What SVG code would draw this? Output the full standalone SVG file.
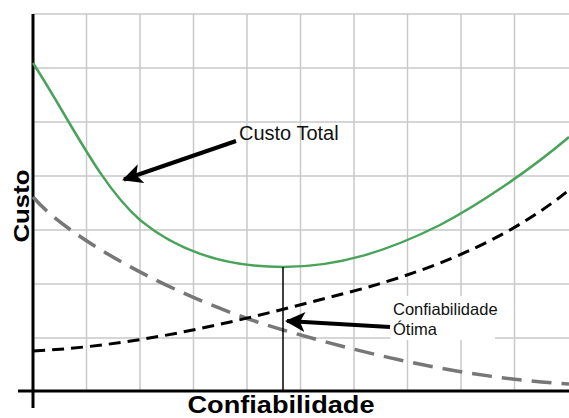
<svg xmlns="http://www.w3.org/2000/svg" width="569" height="418" viewBox="0 0 569 418">
<style>
.grid{stroke:#c9c9c9;stroke-width:1.5;fill:none}
.axis{stroke:#000;stroke-width:3;fill:none}
.lbl{font-family:"Liberation Sans",Arial,sans-serif;fill:#111}
.ax{font-family:"Liberation Sans",Arial,sans-serif;font-weight:bold;fill:#000}
.arrow{stroke:#000;stroke-width:4;fill:none}
</style>
<defs>
<marker id="ah" viewBox="0 0 10 10" refX="9" refY="5" markerWidth="5" markerHeight="5" orient="auto" markerUnits="strokeWidth">
<path d="M0,0 L10,5 L0,10 L2.5,5 Z" fill="#000"/>
</marker>
</defs>
<rect width="569" height="418" fill="#fff"/>
<g id="grid">
<path class="grid" d="M86.5,14V391M140,14V391M193.5,14V391M247,14V391M300.5,14V391M354,14V391M407.5,14V391M461,14V391M514.5,14V391"/>
<path class="grid" d="M33,14H569M33,68H569M33,122H569M33,176H569M33,230H569M33,284H569M33,338H569"/>
</g>
<rect x="390" y="296" width="105" height="44" fill="#fff"/>
<g id="axes">
<line class="axis" x1="33" y1="14" x2="33" y2="408"/>
<line class="axis" x1="18" y1="391" x2="569" y2="391"/>
</g>
<g id="curves">
<path id="custo-total" d="M33,63 C70,120 100,185 140,220 C180,253 230,267 283,267 C340,267 390,250 440,225 C480,204 530,170 569,137" fill="none" stroke="#4aa35a" stroke-width="2.5"/>
<path id="custo-falha" d="M33,197 C70,240 180,300 283,330 C380,358 470,378 569,384" fill="none" stroke="#777" stroke-width="3.5" stroke-dasharray="20 10"/>
<path id="custo-confiab" d="M33,351 C150,345 250,318 350,292 C450,266 520,230 569,190" fill="none" stroke="#000" stroke-width="3" stroke-dasharray="12 7"/>
<line x1="283" y1="267" x2="283" y2="391" stroke="#000" stroke-width="1.5"/>
</g>
<g id="connectors">
<line class="arrow" x1="236" y1="141" x2="124" y2="179.5" marker-end="url(#ah)"/>
<line class="arrow" x1="390" y1="327" x2="287" y2="321" marker-end="url(#ah)"/>
</g>
<g id="label-custo-total">
<text class="lbl" x="239" y="140" font-size="20">Custo Total</text>
</g>
<g id="label-otima">
<text class="lbl" x="393" y="315" font-size="16.5">Confiabilidade</text>
<text class="lbl" x="393" y="335" font-size="16.5">Ótima</text>
</g>
<g id="axis-labels">
<text class="ax" x="281" y="413" font-size="23" text-anchor="middle" textLength="187" lengthAdjust="spacingAndGlyphs">Confiabilidade</text>
<text class="ax" transform="translate(29,206) rotate(-90)" x="0" y="0" font-size="22" text-anchor="middle" textLength="73" lengthAdjust="spacingAndGlyphs">Custo</text>
</g>
</svg>
